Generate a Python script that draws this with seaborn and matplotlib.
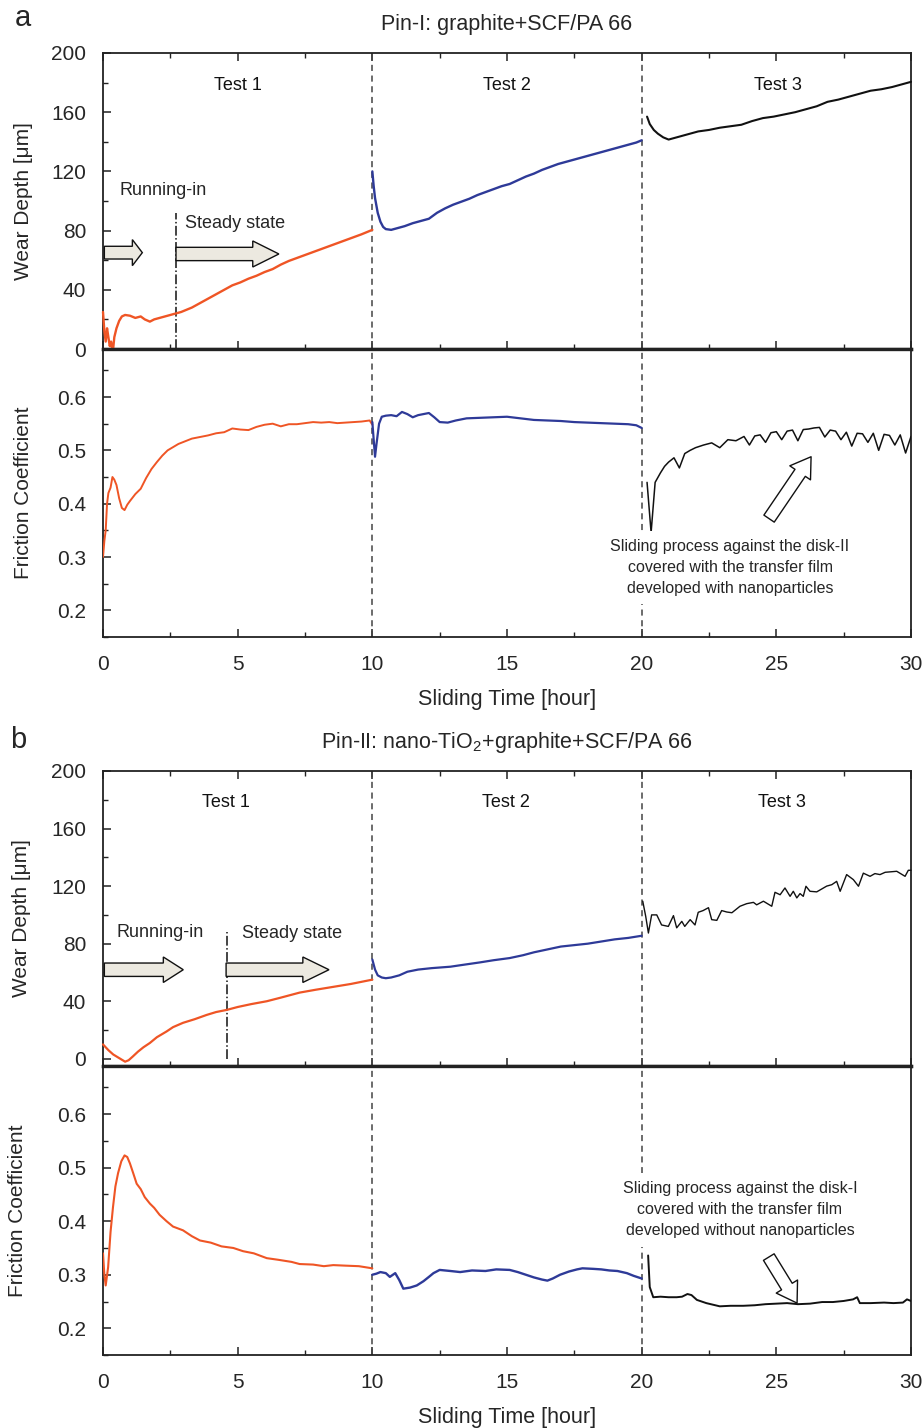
import numpy as np
import pandas as pd
import matplotlib
matplotlib.use("Agg")
import matplotlib.pyplot as plt
from matplotlib.patches import FancyArrow
from matplotlib.ticker import MultipleLocator
import seaborn as sns

# ---------------- data ----------------
# Panel a : Pin-I
a_w1_t = [0.00, 0.05, 0.10, 0.15, 0.20, 0.25, 0.30, 0.36, 0.42, 0.50, 0.60, 0.70, 0.82, 1.0, 1.2, 1.4, 1.55, 1.74,
          1.9, 2.1, 2.3, 2.5, 2.7, 2.9, 3.1, 3.3, 3.6, 3.9, 4.2, 4.5, 4.8, 5.1, 5.4, 5.7, 6.0, 6.3, 6.6, 6.9, 7.2,
          7.5, 7.8, 8.1, 8.4, 8.7, 9.0, 9.3, 9.6, 9.8, 10.0]
a_w1_v = [25, 12, 5, 14, 8, 2, 5, -3, 8, 14, 19, 22, 23, 22.5, 21, 22, 20, 18.5,
          20, 21, 22, 23, 24, 25, 26.5, 28, 31, 34, 37, 40, 43, 45, 47.5, 49.5, 52, 54, 57, 59.5, 61.5,
          63.5, 65.5, 67.5, 69.5, 71.5, 73.5, 75.5, 77.5, 79, 80.5]
a_w2_t = [10.0, 10.05, 10.1, 10.2, 10.3, 10.4, 10.5, 10.7, 10.9, 11.2, 11.5, 11.8, 12.1, 12.4, 12.7, 13.0, 13.3,
          13.6, 13.9, 14.2, 14.5, 14.8, 15.1, 15.4, 15.7, 16.0, 16.3, 16.6, 16.9, 17.2, 17.5, 17.8, 18.1, 18.4,
          18.7, 19.0, 19.3, 19.6, 19.8, 20.0]
a_w2_v = [120, 110, 102, 92, 86, 82.5, 81, 80.5, 81.5, 83, 85, 86.5, 88, 92, 95, 97.5, 99.5,
          101.5, 104, 106, 108, 110, 111.5, 114, 116.5, 118.5, 121, 123, 125, 126.5, 128, 129.5, 131, 132.5,
          134, 135.5, 137, 138.5, 139.5, 141]
a_w3_t = [20.2, 20.3, 20.45, 20.6, 20.8, 21.0, 21.2, 21.5, 21.8, 22.1, 22.5, 22.9, 23.3, 23.7, 24.1, 24.5, 24.9,
          25.3, 25.7, 26.1, 26.5, 26.9, 27.3, 27.7, 28.1, 28.5, 28.9, 29.3, 29.7, 30.0]
a_w3_v = [157, 152, 148, 145.5, 143, 141.5, 142.5, 144, 145.5, 147, 148, 149.5, 150.5, 151.5, 154, 156, 157,
          158.5, 160, 162, 164, 167, 168.5, 170.5, 172.5, 174.5, 175.5, 177, 179, 180.5]

a_f1_t = [0.0, 0.05, 0.1, 0.15, 0.2, 0.28, 0.35, 0.42, 0.5, 0.6, 0.7, 0.8, 0.9, 1.0, 1.2, 1.4, 1.6, 1.8, 2.0, 2.2,
          2.4, 2.6, 2.8, 3.0, 3.3, 3.6, 3.9, 4.2, 4.5, 4.8, 5.1, 5.4, 5.7, 6.0, 6.3, 6.6, 6.9, 7.2, 7.5, 7.8, 8.1,
          8.4, 8.7, 9.0, 9.3, 9.6, 9.9, 10.0]
a_f1_v = [0.30, 0.33, 0.35, 0.40, 0.42, 0.43, 0.45, 0.445, 0.435, 0.41, 0.392, 0.388, 0.398, 0.405, 0.418, 0.428,
          0.448, 0.465, 0.478, 0.49, 0.50, 0.506, 0.512, 0.516, 0.522, 0.525, 0.528, 0.532, 0.534, 0.541, 0.539,
          0.538, 0.544, 0.548, 0.550, 0.545, 0.549, 0.549, 0.551, 0.553, 0.552, 0.553, 0.551, 0.552, 0.553, 0.554,
          0.556, 0.548]
a_f2_t = [10.0, 10.05, 10.1, 10.15, 10.25, 10.35, 10.5, 10.7, 10.9, 11.1, 11.3, 11.5, 11.7, 11.9, 12.1, 12.3, 12.5,
          12.8, 13.1, 13.5, 14.0, 14.5, 15.0, 15.5, 16.0, 16.5, 17.0, 17.5, 18.0, 18.5, 19.0, 19.5, 19.8, 20.0]
a_f2_v = [0.553, 0.52, 0.488, 0.51, 0.55, 0.563, 0.565, 0.566, 0.564, 0.572, 0.568, 0.562, 0.566, 0.568, 0.570,
          0.562, 0.553, 0.552, 0.556, 0.560, 0.561, 0.562, 0.563, 0.560, 0.557, 0.556, 0.555, 0.553, 0.552, 0.551,
          0.550, 0.549, 0.547, 0.542]
a_f3_t = [20.2, 20.35, 20.5, 20.7, 20.85, 21.0, 21.2, 21.4, 21.6, 21.8, 22.0, 22.3, 22.6, 22.9, 23.2, 23.5, 23.8,
          24.0, 24.2, 24.4, 24.6, 24.8, 25.0, 25.2, 25.4, 25.6, 25.8, 26.0, 26.2, 26.4, 26.6, 26.8, 27.0, 27.2,
          27.4, 27.6, 27.8, 28.0, 28.2, 28.4, 28.6, 28.8, 29.0, 29.2, 29.4, 29.6, 29.8, 30.0]
a_f3_v = [0.44, 0.346, 0.44, 0.458, 0.47, 0.478, 0.486, 0.467, 0.494, 0.50, 0.505, 0.51, 0.514, 0.505, 0.52,
          0.518, 0.526, 0.510, 0.527, 0.529, 0.515, 0.533, 0.535, 0.52, 0.536, 0.538, 0.518, 0.539, 0.54, 0.542,
          0.543, 0.525, 0.538, 0.536, 0.52, 0.534, 0.508, 0.532, 0.531, 0.515, 0.532, 0.50, 0.53, 0.528, 0.51,
          0.529, 0.495, 0.526]

# Panel b : Pin-II
b_w1_t = [0, 0.2, 0.38, 0.6, 0.82, 0.95, 1.1, 1.3, 1.5, 1.74, 2.0, 2.36, 2.6, 2.97, 3.4, 3.85, 4.2, 4.6, 5.0, 5.5,
          6.08, 6.6, 7.3, 7.9, 8.55, 9.2, 9.6, 10.0]
b_w1_v = [10, 6, 3, 0.5, -2, -1, 1.5, 5, 8, 11, 15, 19, 22, 25, 27.5, 30.5, 32.5, 34, 36, 38,
          40, 42.5, 46, 48, 50, 52, 53.5, 55]
b_w2_t = [10.0, 10.1, 10.2, 10.35, 10.5, 10.7, 11.0, 11.3, 11.7, 12.2, 12.9, 13.26, 14.0, 14.5, 15.1, 15.6, 16.0,
          16.5, 17.0, 17.5, 18.0, 18.5, 19.0, 19.5, 20.0]
b_w2_v = [69, 62, 58, 56.5, 56, 56.5, 58, 60.5, 62, 63, 64, 65, 67, 68.5, 70, 72, 74,
          76, 78, 79, 80, 81.5, 83, 84, 85.5]
b_w3_t = [20.04, 20.15, 20.25, 20.37, 20.56, 20.74, 20.99, 21.18, 21.3, 21.49, 21.6, 21.8, 21.98, 22.1, 22.28,
          22.48, 22.6, 22.79, 22.97, 23.16, 23.35, 23.65, 23.9, 24.15, 24.27, 24.52, 24.83, 24.95, 25.14, 25.32,
          25.51, 25.63, 25.76, 25.88, 26.0, 26.1, 26.25, 26.5, 26.87, 27.06, 27.24, 27.37, 27.61, 27.86, 28.05,
          28.23, 28.48, 28.66, 28.85, 29.04, 29.47, 29.78, 29.9, 30.0]
b_w3_v = [109.5, 99, 87.4, 100, 100, 93, 92, 99.5, 91, 95.5, 92, 96.7, 93, 101.8, 103,
          105, 96.7, 96.2, 103, 102, 101.5, 106, 107.8, 108.7, 107, 109.5, 106, 115.7, 114, 118.7,
          112.9, 116.4, 111.8, 114.8, 112.9, 119.9, 116.4, 116, 120, 121, 123.3, 116.4, 128, 124.5, 119.9,
          129, 126.8, 128.7, 128, 129.6, 130.3, 126.8, 131, 131]

b_f1_t = [0.0, 0.05, 0.1, 0.19, 0.28, 0.37, 0.46, 0.56, 0.68, 0.8, 0.9, 1.0, 1.12, 1.25, 1.4, 1.55, 1.74, 1.9, 2.1,
          2.36, 2.6, 2.97, 3.3, 3.6, 4.0, 4.4, 4.84, 5.2, 5.6, 6.08, 6.5, 7.0, 7.3, 7.8, 8.2, 8.55, 9.0, 9.5, 10.0]
b_f1_v = [0.34, 0.30, 0.28, 0.314, 0.38, 0.426, 0.465, 0.49, 0.512, 0.523, 0.52, 0.508, 0.49, 0.47, 0.46, 0.445,
          0.433, 0.425, 0.412, 0.40, 0.39, 0.383, 0.372, 0.364, 0.36, 0.353, 0.35, 0.344, 0.34, 0.331, 0.328,
          0.324, 0.32, 0.319, 0.316, 0.318, 0.317, 0.316, 0.312]
b_f2_t = [10.0, 10.15, 10.3, 10.5, 10.65, 10.85, 11.0, 11.15, 11.4, 11.65, 11.9, 12.1, 12.27, 12.5, 12.9, 13.26,
          13.7, 14.2, 14.6, 15.1, 15.4, 15.7, 16.0, 16.3, 16.5, 16.7, 16.97, 17.3, 17.6, 17.8, 18.2, 18.5, 18.8,
          19.1, 19.45, 19.7, 20.0]
b_f2_v = [0.30, 0.302, 0.305, 0.303, 0.296, 0.303, 0.29, 0.274, 0.276, 0.28, 0.288, 0.296, 0.303, 0.309, 0.307,
          0.305, 0.308, 0.307, 0.31, 0.309, 0.305, 0.30, 0.295, 0.291, 0.289, 0.293, 0.30, 0.306, 0.31, 0.312,
          0.311, 0.31, 0.308, 0.307, 0.303, 0.298, 0.293]
b_f3_t = [20.24, 20.3, 20.43, 20.7, 21.0, 21.3, 21.5, 21.7, 21.85, 22.05, 22.4, 22.9, 23.3, 23.77, 24.2, 24.6, 25.0,
          25.4, 25.8, 26.25, 26.7, 27.1, 27.5, 27.85, 28.0, 28.1, 28.5, 29.0, 29.35, 29.7, 29.85, 30.0]
b_f3_v = [0.336, 0.277, 0.258, 0.259, 0.258, 0.258, 0.259, 0.264, 0.262, 0.253, 0.247, 0.241, 0.242, 0.242,
          0.243, 0.245, 0.246, 0.247, 0.245, 0.246, 0.249, 0.249, 0.251, 0.254, 0.258, 0.247, 0.247, 0.248,
          0.247, 0.248, 0.254, 0.251]

test_boundaries = [10, 20]
test_labels = ["Test 1", "Test 2", "Test 3"]
steady_start = [2.7, 4.6]
x_ticks = [0, 5, 10, 15, 20, 25, 30]
wear_ticks = [0, 40, 80, 120, 160, 200]
fric_ticks = [0.2, 0.3, 0.4, 0.5, 0.6]
titles = ["Pin-I: graphite+SCF/PA 66", r"Pin-II: nano-TiO$\mathregular{_2}$+graphite+SCF/PA 66"]
notes = ["Sliding process against the disk-II\ncovered with the transfer film\ndeveloped with nanoparticles",
         "Sliding process against the disk-I\ncovered with the transfer film\ndeveloped without nanoparticles"]

# ---------------- style ----------------
sns.set_theme(style="ticks")
plt.rcParams['font.family'] = ['Liberation Sans', 'DejaVu Sans']
plt.rcParams['mathtext.fontset'] = 'custom'
plt.rcParams['mathtext.rm'] = 'Liberation Sans'

ORANGE = "#EF5525"
BLUE = "#2E3A98"
BLACK = "#111111"
ARROW_FILL = "#ECE9E0"
SPINE = "#222222"

fig = plt.figure(figsize=(9.23, 14.28), dpi=100)
L, W = 0.1116, 0.8754
axes = {
    "aw": fig.add_axes([L, 0.7556, W, 0.2073]),
    "af": fig.add_axes([L, 0.5539, W, 0.2017]),
    "bw": fig.add_axes([L, 0.2535, W, 0.2066]),
    "bf": fig.add_axes([L, 0.0511, W, 0.2024]),
}


def style_axis(ax, wear):
    ax.set_xlim(0, 30)
    for s in ax.spines.values():
        s.set_color(SPINE)
        s.set_linewidth(1.3)
    ax.xaxis.set_major_locator(MultipleLocator(5))
    ax.xaxis.set_minor_locator(MultipleLocator(2.5))
    if wear:
        ax.yaxis.set_major_locator(MultipleLocator(40))
        ax.yaxis.set_minor_locator(MultipleLocator(20))
        ax.tick_params(axis='x', which='both', direction='in', top=True, bottom=True,
                       labelbottom=False, color=SPINE)
        ax.spines['bottom'].set_linewidth(2.4)
    else:
        ax.yaxis.set_major_locator(MultipleLocator(0.1))
        ax.yaxis.set_minor_locator(MultipleLocator(0.05))
        ax.tick_params(axis='x', which='both', direction='in', top=False, bottom=True,
                       labelbottom=True, pad=13, color=SPINE)
        ax.spines['top'].set_linewidth(2.4)
    ax.tick_params(axis='y', which='both', direction='in', left=True, right=False, pad=12, color=SPINE)
    ax.tick_params(which='major', length=6, width=1.1, labelsize=15)
    ax.tick_params(which='minor', length=3.5, width=1.0)


panels = [
    ("aw", "af", [(a_w1_t, a_w1_v), (a_w2_t, a_w2_v), (a_w3_t, a_w3_v)],
     [(a_f1_t, a_f1_v), (a_f2_t, a_f2_v), (a_f3_t, a_f3_v)], (0, 200)),
    ("bw", "bf", [(b_w1_t, b_w1_v), (b_w2_t, b_w2_v), (b_w3_t, b_w3_v)],
     [(b_f1_t, b_f1_v), (b_f2_t, b_f2_v), (b_f3_t, b_f3_v)], (-5, 200)),
]
colors = [ORANGE, BLUE, BLACK]
wear_lw = [[1.7, 1.7, 1.5], [1.6, 1.6, 1.0]]
fric_lw = [[1.4, 1.6, 1.1], [1.5, 1.7, 1.4]]
ylab_x = [(-0.087, -0.087), (-0.089, -0.094)]

for pi, (kw, kf, wear_series, fric_series, wlim) in enumerate(panels):
    axw, axf = axes[kw], axes[kf]
    for (t, v), c, lw in zip(wear_series, colors, wear_lw[pi]):
        sns.lineplot(x=t, y=v, ax=axw, color=c, linewidth=lw, estimator=None, sort=False,
                     clip_on=False, zorder=3)
    for (t, v), c, lw in zip(fric_series, colors, fric_lw[pi]):
        sns.lineplot(x=t, y=v, ax=axf, color=c, linewidth=lw, estimator=None, sort=False, zorder=3)
    style_axis(axw, True)
    style_axis(axf, False)
    axw.set_ylim(*wlim)
    axw.set_yticks(wear_ticks)
    axf.set_ylim(0.15, 0.69)
    axf.set_yticks(fric_ticks)
    axf.set_yticklabels([f"{v:.1f}" for v in fric_ticks])
    axf.set_xticks(x_ticks)
    axw.set_xticks(x_ticks)

    for ax in (axw, axf):
        for xb in test_boundaries:
            ax.axvline(xb, color="#444444", lw=1.1, ls=(0, (4, 3)), zorder=1)

    axw.set_ylabel("Wear Depth [\u03bcm]", fontsize=15)
    axf.set_ylabel("Friction Coefficient", fontsize=15)
    axf.set_xlabel("Sliding Time [hour]", fontsize=15.5)
    axw.yaxis.set_label_coords(ylab_x[pi][0], 0.5)
    axf.yaxis.set_label_coords(ylab_x[pi][1], 0.5)
    axf.xaxis.set_label_coords(0.5, -0.18)

    # Test labels
    test_x = [5.0, 15.0, 25.07] if pi == 0 else [4.56, 14.95, 25.2]
    for tx, lab in zip(test_x, test_labels):
        axw.text(tx, 178, lab, fontsize=13, ha='center', va='center', color='#111')

    # running-in / steady state
    ss = steady_start[pi]
    top = 92 if pi == 0 else 88
    axw.plot([ss, ss], [0, top], color='#111', lw=1.1, ls='-.', zorder=2)
    if pi == 0:
        axw.text(0.63, 107, "Running-in", fontsize=13, ha='left', va='center')
        axw.text(3.05, 84.5, "Steady state", fontsize=13, ha='left', va='center')
        arrows = [(0.05, 65.1, 1.41, 0.37, 8.6), (2.71, 64.2, 3.82, 0.97, 9.0)]
        hw = 17.6
    else:
        axw.text(0.5, 88, "Running-in", fontsize=13, ha='left', va='center')
        axw.text(5.17, 87, "Steady state", fontsize=13, ha='left', va='center')
        arrows = [(0.05, 61.9, 2.93, 0.74, 9.3), (4.57, 61.9, 3.82, 0.97, 9.3)]
        hw = 17.7
    for (x0, y0, dx, hl, wd) in arrows:
        axw.add_patch(FancyArrow(x0, y0, dx, 0, width=wd, head_width=hw, head_length=hl,
                                 length_includes_head=True, fc=ARROW_FILL, ec='#111', lw=1.0, zorder=4))

    # annotations in friction axes
    if pi == 0:
        axf.text(23.28, 0.28, notes[0], fontsize=11.5, ha='center', va='center', linespacing=1.5,
                 bbox=dict(facecolor='white', edgecolor='none', pad=6), zorder=5)
        tail, tip = (24.73, 0.372), (26.29, 0.488)
    else:
        axf.text(23.65, 0.4215, notes[1], fontsize=11.5, ha='center', va='center', linespacing=1.5,
                 bbox=dict(facecolor='white', edgecolor='none', pad=6), zorder=5)
        tail, tip = (24.72, 0.333), (25.77, 0.247)
    axf.annotate("", xy=tip, xytext=tail,
                 arrowprops=dict(arrowstyle="simple,head_length=1.4,head_width=1.8,tail_width=0.9",
                                 mutation_scale=10, fc='white', ec='#111', lw=1.0,
                                 shrinkA=0, shrinkB=0), zorder=6)

# Panel letters and titles
fig.text(15 / 923, 1 - 26 / 1428, "a", fontsize=21, ha='left', va='baseline')
fig.text(10 / 923, 1 - 748 / 1428, "b", fontsize=21, ha='left', va='baseline')
fig.text(507 / 923, 1 - 30 / 1428, titles[0], fontsize=15.5, ha='center', va='baseline')
fig.text(507 / 923, 1 - 748 / 1428, titles[1], fontsize=15.5, ha='center', va='baseline')

fig.savefig("out.png", dpi=100, facecolor='white')
